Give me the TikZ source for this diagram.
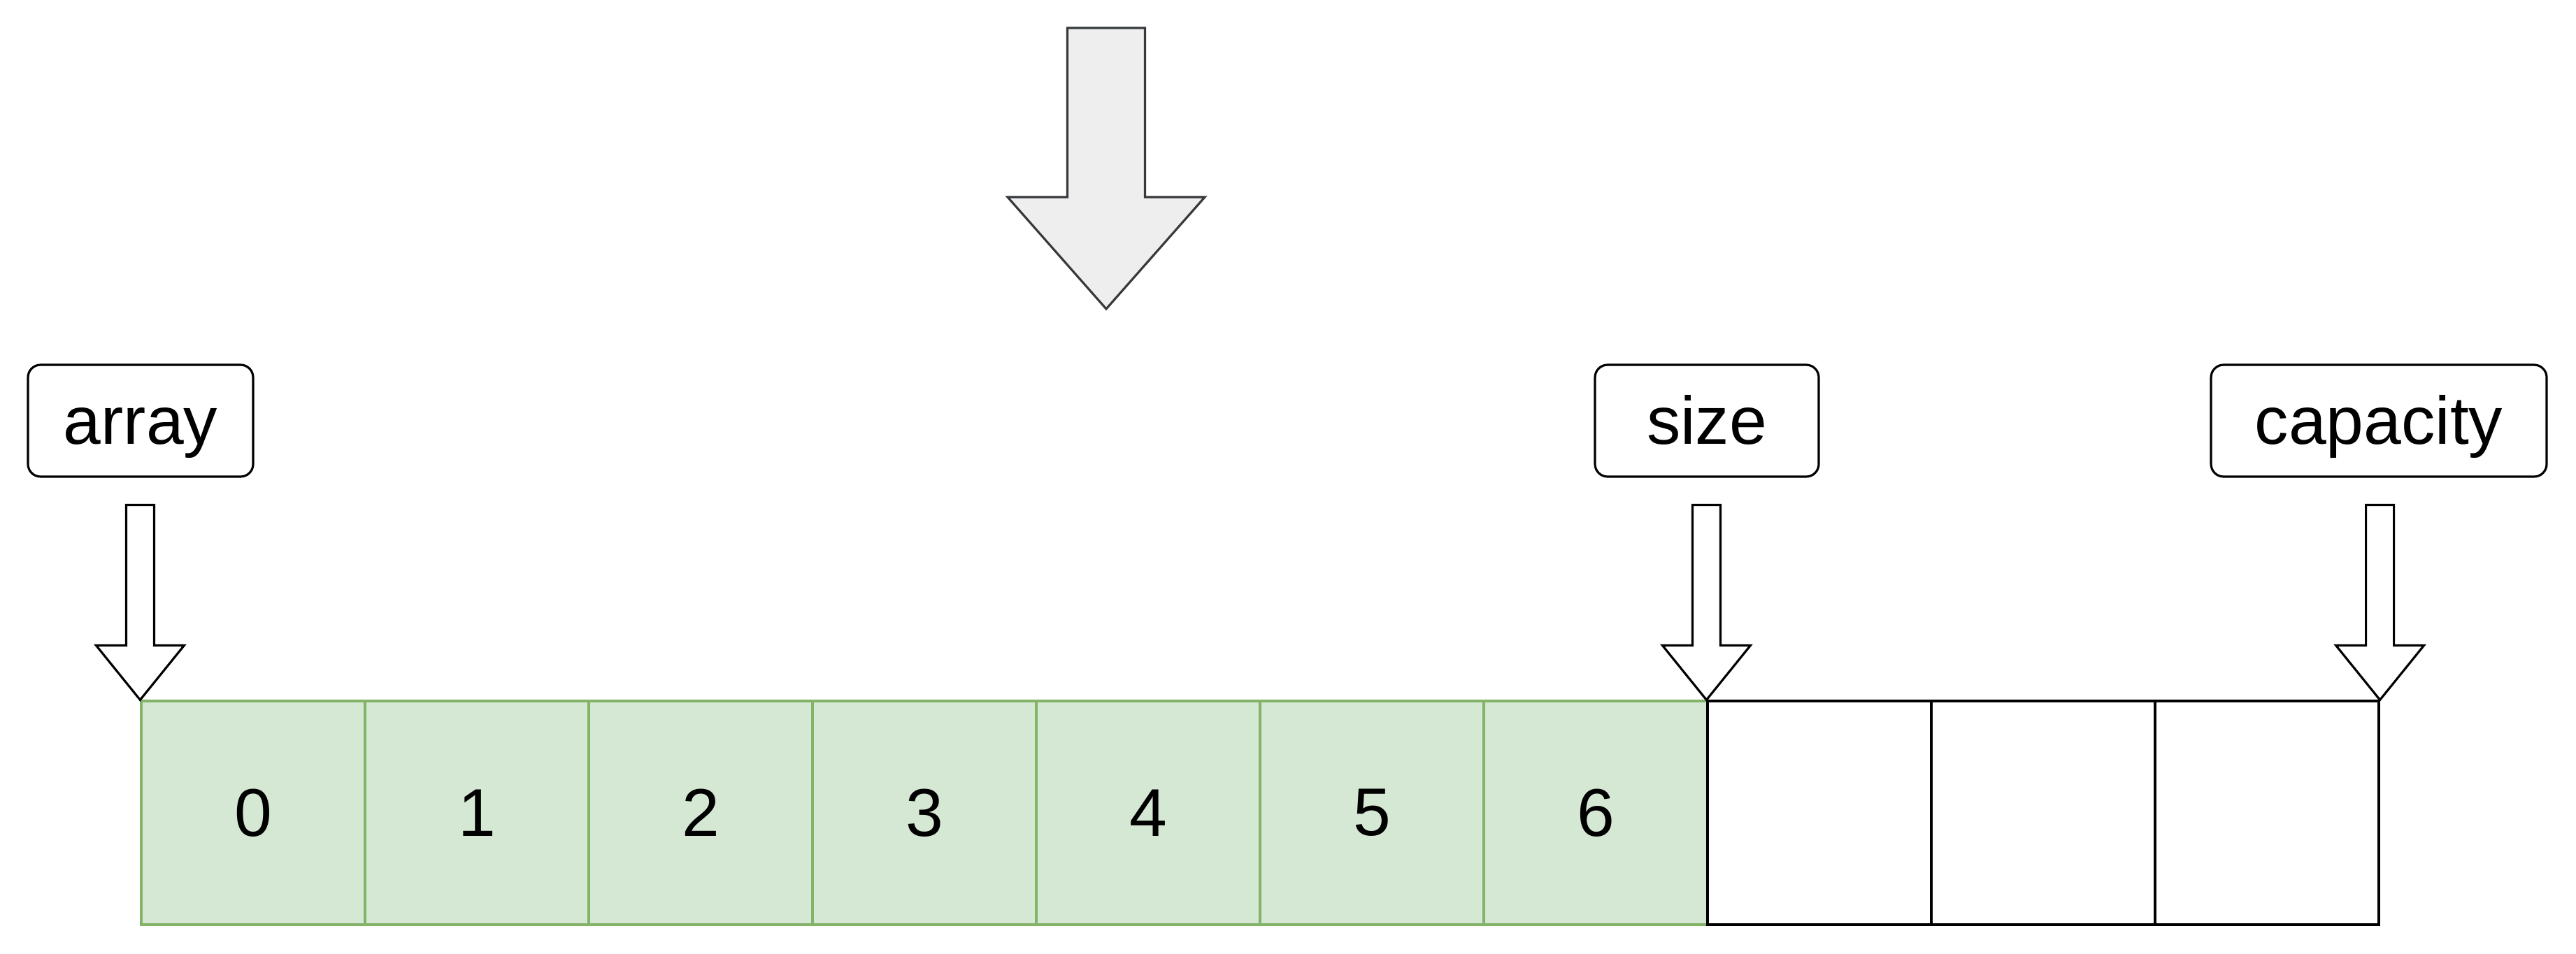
\documentclass[tikz,border=0pt]{standalone}
\usepackage{fontspec}
\setmainfont{Liberation Sans}
\usepackage{tikz}
\usetikzlibrary{positioning, calc}
\definecolor{usedfill}{HTML}{D5E8D4}
\definecolor{usedline}{HTML}{82B366}
\definecolor{growfill}{HTML}{EEEEEE}
\definecolor{growline}{HTML}{36393D}

\begin{document}
\begin{tikzpicture}[line width=0.9pt, font=\fontsize{27.5}{33}\selectfont,
	cell/.style={draw, rectangle, minimum width=3.2cm, minimum height=3.2cm, inner sep=0pt},
	usedcell/.style={cell, fill=usedfill, draw=usedline},
	freecell/.style={cell, fill=white, draw=black},
	tag/.style={draw, rectangle, rounded corners=0.18cm, minimum height=1.6cm, inner sep=0pt, 
	text height=0.9cm, text depth=0.24cm},
	pointer/.style={draw=black, fill=white, line join=miter}]
			
			\useasboundingbox (0,0) rectangle (36.84,13.64);
			
			%Cells
			\foreach \i in {0,...,6}
			\node (c\i) at (3.62+3.2*\i,2.01) [usedcell]{\i};
			\foreach \i in {7,8,9}
			\node (c\i) at (3.62+3.2*\i,2.01) [freecell]{};
			
			%Labels
			\node (array) at (2.01,7.62) [tag, minimum width=3.22cm]{array};
			\node (size) at (24.41,7.62) [tag, minimum width=3.2cm]{size};
			\node (capacity) at (34.02,7.62) [tag, minimum width=4.8cm]{capacity};
			
			%Pointers
			\foreach \p in {c0.north west, c7.north west, c9.north east}
			\draw[pointer, shift={(\p)}] (0,0) -- (-0.63,0.78) -- (-0.2,0.78) -- (-0.2,2.79) 
			-- (0.2,2.79) -- (0.2,0.78) -- (0.63,0.78) -- cycle;
			
			%Grow arrow
			\draw[fill=growfill, draw=growline] (15.82,9.22) coordinate (growtip) -- ++(-1.41,1.6) 
			-- ++(0.855,0) -- ++(0,2.42) -- ++(1.11,0) -- ++(0,-2.42) -- ++(0.855,0) -- cycle;
			
\end{tikzpicture}
\end{document}
